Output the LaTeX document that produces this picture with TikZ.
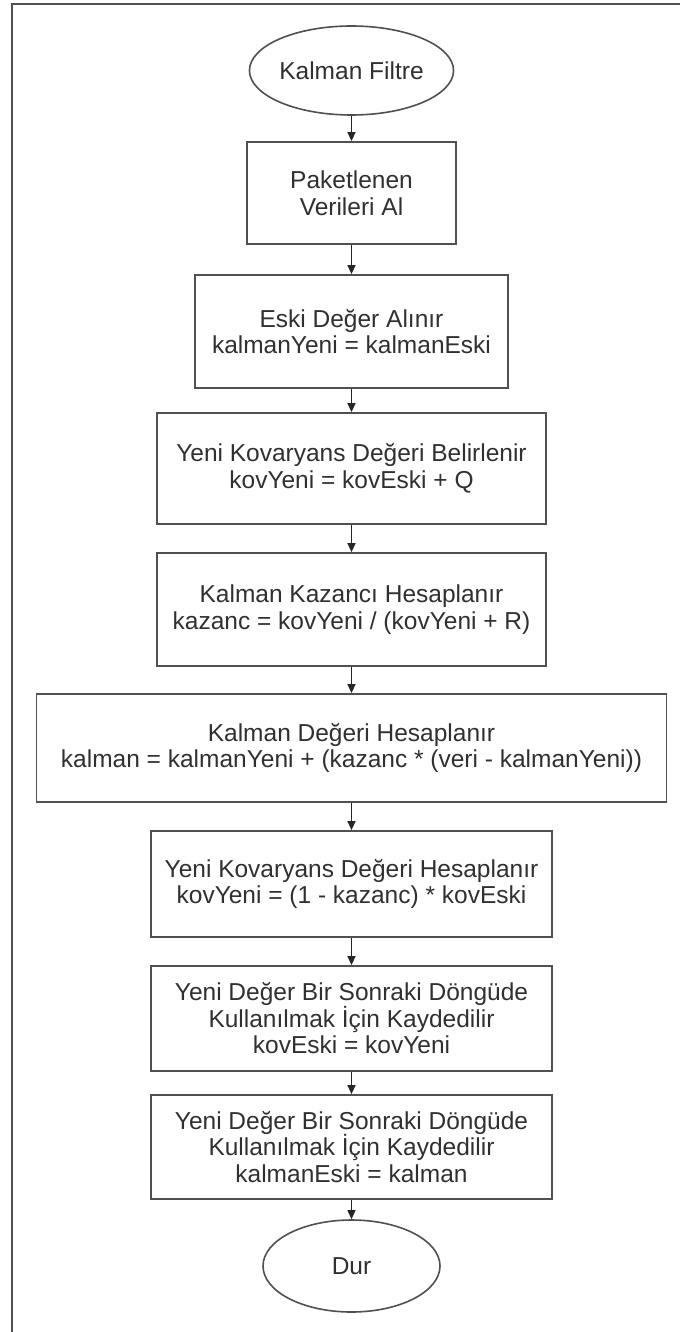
\documentclass[tikz,border=0pt]{standalone}
\usepackage{fontspec}
\setmainfont{Liberation Sans}
\usetikzlibrary{shapes.geometric,arrows.meta}
\definecolor{bordercol}{HTML}{505050}
\definecolor{textcol}{HTML}{303030}
\tikzset{
  stepbox/.style={draw=bordercol, line width=1.8pt, rectangle, align=center, inner sep=0pt, text=textcol,
    font=\fontsize{24.5}{26.5}\selectfont},
  terminal/.style={draw=bordercol, line width=1.6pt, ellipse, align=center, inner sep=0pt, text=textcol,
    font=\fontsize{24.5}{26.5}\selectfont},
  arr/.style={draw=black!85, line width=1.4pt, -{Triangle[width=8pt,length=9pt]}},
  frameline/.style={draw=bordercol, line width=2pt}
}
\begin{document}
\begin{tikzpicture}[x=1pt,y=-1pt]
\useasboundingbox (0,0) rectangle (680,1332);
\draw[frameline] (12,1332) -- (12,4) -- (680,4);

\node[terminal, minimum width=176pt, minimum height=89pt] (e1) at (351.5,70.5) {Kalman Filtre};
\node[stepbox, minimum width=209pt, minimum height=102pt] (b1) at (351.5,193) {Paketlenen\\Verileri Al};
\node[stepbox, minimum width=313pt, minimum height=113pt] (b2) at (351.5,331.5) {Eski Değer Alınır\\kalmanYeni = kalmanEski};
\node[stepbox, minimum width=389pt, minimum height=111pt] (b3) at (351.5,468.5) {Yeni Kovaryans Değeri Belirlenir\\kovYeni = kovEski + Q};
\node[stepbox, minimum width=389pt, minimum height=113pt] (b4) at (351.5,609.5) {Kalman Kazancı Hesaplanır\\kazanc = kovYeni / (kovYeni + R)};
\node[stepbox, minimum width=630pt, minimum height=108pt] (b5) at (351.5,748) {Kalman Değeri Hesaplanır\\kalman = kalmanYeni + (kazanc * (veri - kalmanYeni))};
\node[stepbox, minimum width=401pt, minimum height=106pt] (b6) at (351.5,884) {Yeni Kovaryans Değeri Hesaplanır\\kovYeni = (1 - kazanc) * kovEski};
\node[stepbox, minimum width=401pt, minimum height=105pt] (b7) at (351.5,1018.5) {Yeni Değer Bir Sonraki Döngüde\\Kullanılmak İçin Kaydedilir\\kovEski = kovYeni};
\node[stepbox, minimum width=401pt, minimum height=104pt] (b8) at (351.5,1147) {Yeni Değer Bir Sonraki Döngüde\\Kullanılmak İçin Kaydedilir\\kalmanEski = kalman};
\node[terminal, minimum width=177pt, minimum height=92pt] (e2) at (351.5,1266) {Dur};

\draw[arr] (e1.south) -- (b1.north);
\draw[arr] (b1.south) -- (b2.north);
\draw[arr] (b2.south) -- (b3.north);
\draw[arr] (b3.south) -- (b4.north);
\draw[arr] (b4.south) -- (b5.north);
\draw[arr] (b5.south) -- (b6.north);
\draw[arr] (b6.south) -- (b7.north);
\draw[arr] (b7.south) -- (b8.north);
\draw[arr] (b8.south) -- (e2.north);
\end{tikzpicture}
\end{document}
